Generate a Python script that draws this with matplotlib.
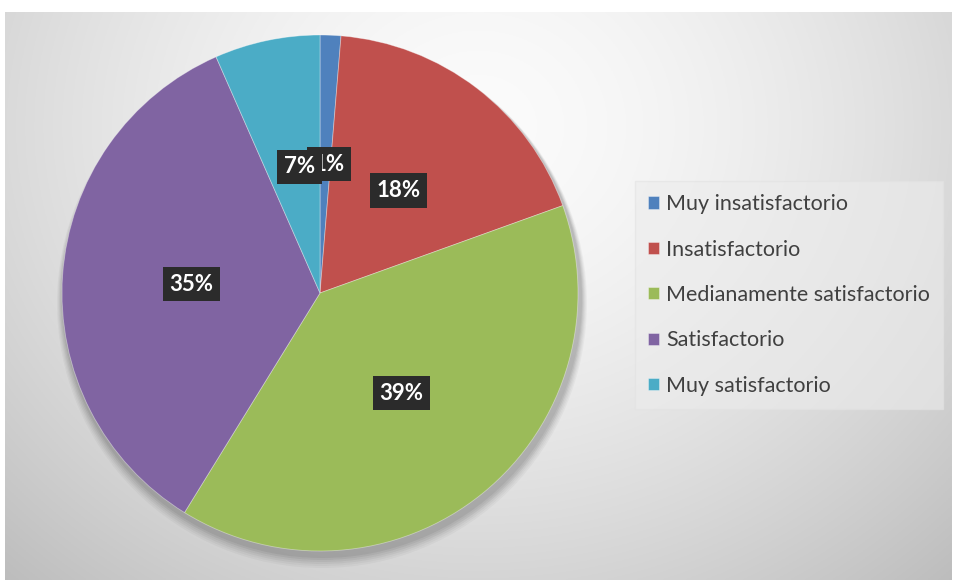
import numpy as np
import matplotlib.pyplot as plt

# datos del gráfico
categorias = ["Muy insatisfactorio", "Insatisfactorio", "Medianamente satisfactorio",
              "Satisfactorio", "Muy satisfactorio"]
valores = [1.3, 18.2, 39.3, 34.6, 6.6]
colores = ["#4F81BD", "#C0504D", "#9BBB59", "#8064A2", "#4BACC6"]

plt.rcParams['font.family'] = ['Lato', 'DejaVu Sans']

fig = plt.figure(figsize=(9.56, 5.80), dpi=100)
fig.patch.set_facecolor("white")

# fondo degradado gris
bg = fig.add_axes([0.005, 0, 0.99, 0.979])
yy, xx = np.mgrid[0:1:300j, 0:1:500j]
d = np.sqrt(((xx - 0.5) / 0.75) ** 2 + ((yy - 0.2) / 1.1) ** 2)
g = 0.985 - 0.25 * np.clip(d, 0, 1) ** 1.6
bg.imshow(np.dstack([g, g, g]), extent=[0, 1, 0, 1], origin="upper", aspect="auto")
bg.set_axis_off()

ax = fig.add_axes([0.0, 0.0, 1.0, 1.0])
cx, cy, r = 320, 580 - 293, 258
# sombra del pastel
for k, a in zip(range(6), [0.05, 0.05, 0.05, 0.04, 0.03, 0.03]):
    ax.add_patch(plt.Circle((cx + 2, cy - 5 - k), r + 2 + k, color="black", alpha=a, lw=0))

wedges, textos, pcts = ax.pie(valores, colors=colores, startangle=90, counterclock=False,
                              radius=r, center=(cx, cy), autopct="%.0f%%", pctdistance=0.5,
                              wedgeprops=dict(linewidth=0.6, edgecolor=(1, 1, 1, 0.4)),
                              textprops=dict(color="white", fontsize=16, fontweight="bold"),
                              frame=True)
ax.set_xlim(0, 956)
ax.set_ylim(0, 580)
ax.set_aspect("equal")
ax.set_axis_off()
for i, t in enumerate(pcts):
    t.set_bbox(dict(boxstyle="square,pad=0.3", facecolor="#2b2b2b", edgecolor="none"))
x0 = pcts[0].get_position()[0]
pcts[0].set_x(x0 + 4)
x4 = pcts[4].get_position()[0]
pcts[4].set_x(x4 + 6)

ax.legend(wedges, categorias, loc="center left", bbox_to_anchor=(635 / 956, 1 - 295 / 580),
          frameon=True, fancybox=False, facecolor="#ececec", edgecolor="#e2e2e2",
          framealpha=0.6, fontsize=15.5, labelcolor="#404040", handlelength=0.5,
          handleheight=0.5, handletextpad=0.35, labelspacing=1.18, borderpad=0.6,
          borderaxespad=0)

fig.savefig("out.png", dpi=100)
